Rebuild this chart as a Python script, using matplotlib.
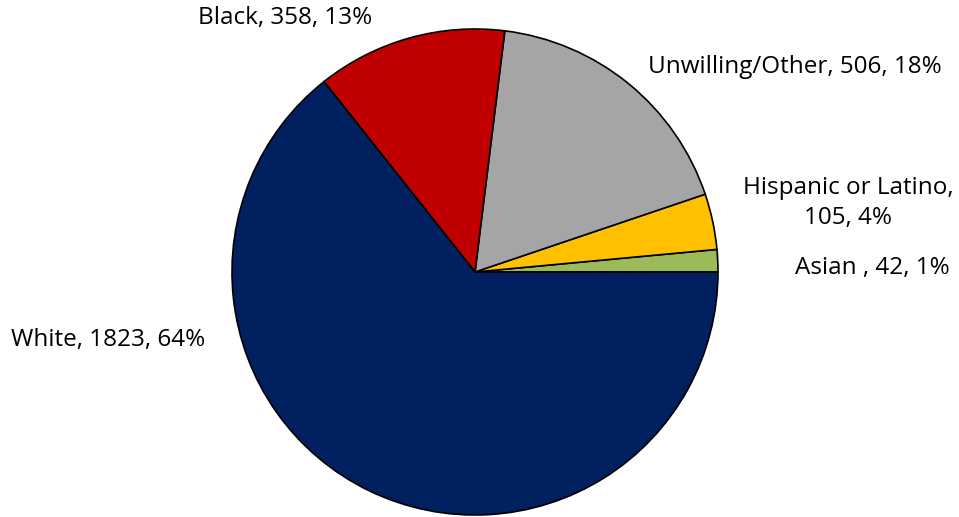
import matplotlib.pyplot as plt

# Data (counter-clockwise from 3 o'clock)
categories = ['Asian ', 'Hispanic or Latino', 'Unwilling/Other', 'Black', 'White']
counts = [42, 105, 506, 358, 1823]
colors = ['#9BBB59', '#FFC000', '#A5A5A5', '#C00000', '#002060']

total = sum(counts)
labels = []
for name, n in zip(categories, counts):
    pct = round(100 * n / total)
    if name == 'Hispanic or Latino':
        labels.append(f'{name},\n{n}, {pct}%')
    else:
        labels.append(f'{name}, {n}, {pct}%')

label_pos = [(872, 249), (848, 314), (795, 450), (285, 499), (108, 177)]

plt.rcParams['font.family'] = ['Open Sans', 'DejaVu Sans']
fig = plt.figure(figsize=(9.59, 5.17), dpi=100)
ax = fig.add_axes([0, 0, 1, 1])

ax.pie(counts, colors=colors, startangle=0, counterclock=True,
       center=(475, 245), radius=243, frame=True,
       wedgeprops=dict(edgecolor='black', linewidth=1.2))
ax.set_xlim(0, 959)
ax.set_ylim(0, 517)
ax.set_aspect('equal')
ax.axis('off')

for lab, (x, y) in zip(labels, label_pos):
    ax.text(x, y, lab, ha='center', va='center', fontsize=17.5,
            color='#000000', linespacing=1.38)

fig.savefig('out.png', dpi=100)
